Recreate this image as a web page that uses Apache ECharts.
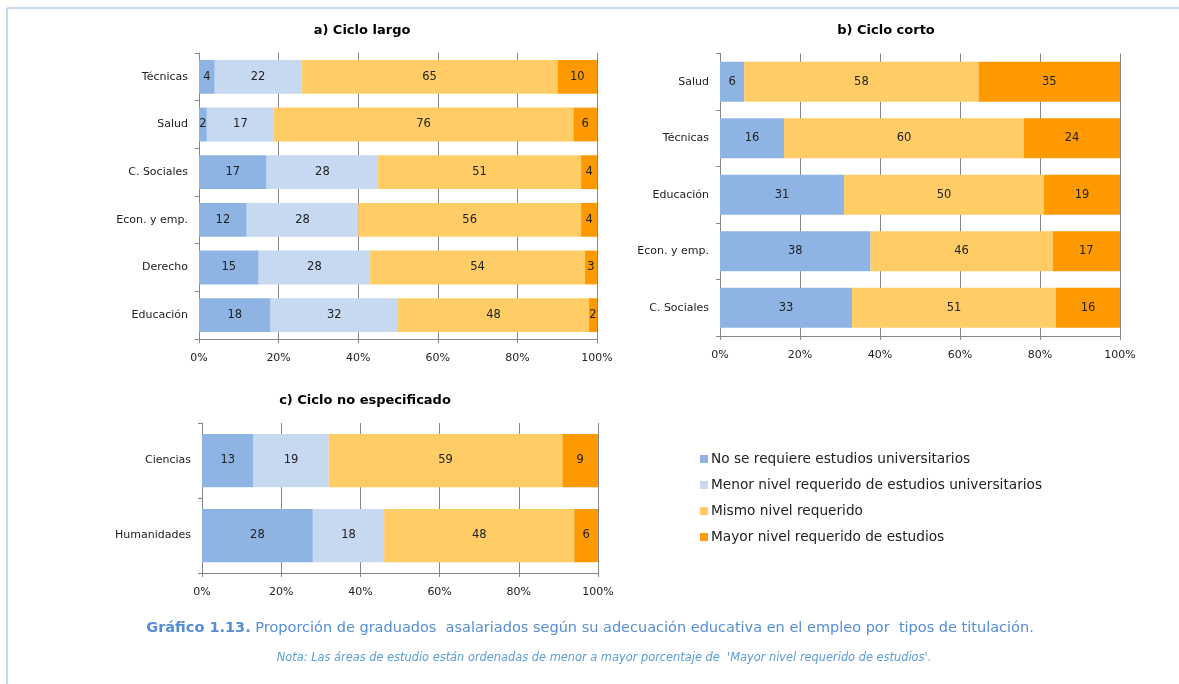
<!DOCTYPE html>
<html>
<head>
<meta charset="utf-8">
<script src="https://cdn.jsdelivr.net/npm/echarts@6/dist/echarts.min.js"></script>
<style>
html,body{margin:0;padding:0;background:#fff;}
#c{width:1179px;height:684px;}
</style>
</head>
<body>
<div id="c"></div>
<script>
var seriesNames = ['No se requiere estudios universitarios','Menor nivel requerido de estudios universitarios','Mismo nivel requerido','Mayor nivel requerido de estudios'];
var colors = ['#8EB4E3','#C6D9F1','#FFCC66','#FF9900'];
var xTicks = ['0%','20%','40%','60%','80%','100%'];

var catsA = ['Técnicas','Salud','C. Sociales','Econ. y emp.','Derecho','Educación'];
var noReqA    = [4, 2, 17, 12, 15, 18];
var menorA    = [22, 17, 28, 28, 28, 32];
var mismoA    = [65, 76, 51, 56, 54, 48];
var mayorA    = [10, 6, 4, 4, 3, 2];

var catsB = ['Salud','Técnicas','Educación','Econ. y emp.','C. Sociales'];
var noReqB    = [6, 16, 31, 38, 33];
var menorB    = [null, null, null, null, null];
var mismoB    = [58, 60, 50, 46, 51];
var mayorB    = [35, 24, 19, 17, 16];

var catsC = ['Ciencias','Humanidades'];
var noReqC    = [13, 28];
var menorC    = [19, 18];
var mismoC    = [59, 48];
var mayorC    = [9, 6];

var FONT = 'DejaVu Sans';

function build(panel, idx) {
  var n = panel[0].length;
  var sums = [];
  for (var i = 0; i < n; i++) {
    var s = 0;
    panel.forEach(function (arr) { s += (arr[i] || 0); });
    sums.push(s);
  }
  return panel.map(function (arr, k) {
    return {
      name: seriesNames[k],
      type: 'bar',
      stack: 'p' + idx,
      xAxisIndex: idx,
      yAxisIndex: idx,
      barCategoryGap: '29%',
      itemStyle: { color: colors[k] },
      label: {
        show: true,
        position: 'inside',
        color: '#222',
        fontFamily: FONT,
        fontSize: 11.5,
        formatter: function (p) { return p.data.raw == null ? '' : String(p.data.raw); }
      },
      emphasis: { disabled: true },
      data: arr.map(function (v, i) {
        return { value: v == null ? null : v / sums[i] * 100, raw: v };
      })
    };
  });
}

function xAx(gi) {
  return {
    type: 'value', gridIndex: gi, min: 0, max: 100, interval: 20,
    axisLine: { show: true, lineStyle: { color: '#868686' } },
    axisTick: { show: true, length: 4, lineStyle: { color: '#868686' } },
    splitLine: { show: true, lineStyle: { color: '#868686' } },
    axisLabel: { margin: 14, color: '#222', fontFamily: FONT, fontSize: 11,
      formatter: function (v) { return xTicks[Math.round(v / 20)]; } }
  };
}
function yAx(gi, cats) {
  return {
    type: 'category', gridIndex: gi, data: cats, inverse: true,
    axisLine: { show: true, lineStyle: { color: '#868686' } },
    axisTick: { show: true, length: 4, lineStyle: { color: '#868686' } },
    axisLabel: { margin: 11, color: '#222', fontFamily: FONT, fontSize: 11 }
  };
}

var series = [].concat(
  build([noReqA, menorA, mismoA, mayorA], 0),
  build([noReqB, menorB, mismoB, mayorB], 1),
  build([noReqC, menorC, mismoC, mayorC], 2)
);

var chart = echarts.init(document.getElementById('c'));
chart.setOption({
  animation: false,
  textStyle: { fontFamily: FONT },
  title: [
    { text: 'a) Ciclo largo', left: 357, top: 19, textAlign: 'center',
      textStyle: { fontFamily: FONT, fontSize: 13, fontWeight: 'bold', color: '#000' } },
    { text: 'b) Ciclo corto', left: 881, top: 19, textAlign: 'center',
      textStyle: { fontFamily: FONT, fontSize: 13, fontWeight: 'bold', color: '#000' } },
    { text: 'c) Ciclo no especificado', left: 360, top: 389, textAlign: 'center',
      textStyle: { fontFamily: FONT, fontSize: 13, fontWeight: 'bold', color: '#000' } },
    { text: '{b|Gráfico 1.13.} Proporción de graduados  asalariados según su adecuación educativa en el empleo por  tipos de titulación.',
      left: 585, top: 616, textAlign: 'center',
      textStyle: { fontFamily: FONT, fontSize: 14.5, color: '#558ED5', fontWeight: 'normal',
        rich: { b: { fontFamily: FONT, fontSize: 14.5, color: '#558ED5', fontWeight: 'bold' } } } },
    { text: "Nota: Las áreas de estudio están ordenadas de menor a mayor porcentaje de  'Mayor nivel requerido de estudios'.",
      left: 599, top: 648, textAlign: 'center',
      textStyle: { fontFamily: FONT, fontSize: 11.4, color: '#5B9BD5', fontStyle: 'italic', fontWeight: 'normal' } }
  ],
  legend: {
    orient: 'vertical', left: 695, top: 446,
    itemWidth: 8, itemHeight: 8, itemGap: 10,
    icon: 'rect',
    data: seriesNames,
    selectedMode: false,
    textStyle: { fontFamily: FONT, fontSize: 13.7, color: '#222', lineHeight: 16, padding: [0, 0, 0, -2] }
  },
  grid: [
    { left: 199, top: 53, width: 398, height: 286 },
    { left: 720, top: 53.5, width: 400, height: 282.5 },
    { left: 202, top: 423, width: 396, height: 150 }
  ],
  xAxis: [xAx(0), xAx(1), xAx(2)],
  yAxis: [yAx(0, catsA), yAx(1, catsB), yAx(2, catsC)],
  series: series,
  graphic: [
    { type: 'line', shape: { x1: 7, y1: 8, x2: 1179, y2: 8 }, style: { stroke: '#C6D9F1', lineWidth: 2 } },
    { type: 'line', shape: { x1: 7, y1: 8, x2: 7, y2: 684 }, style: { stroke: '#C6D9F1', lineWidth: 2 } }
  ]
});
</script>
</body>
</html>
